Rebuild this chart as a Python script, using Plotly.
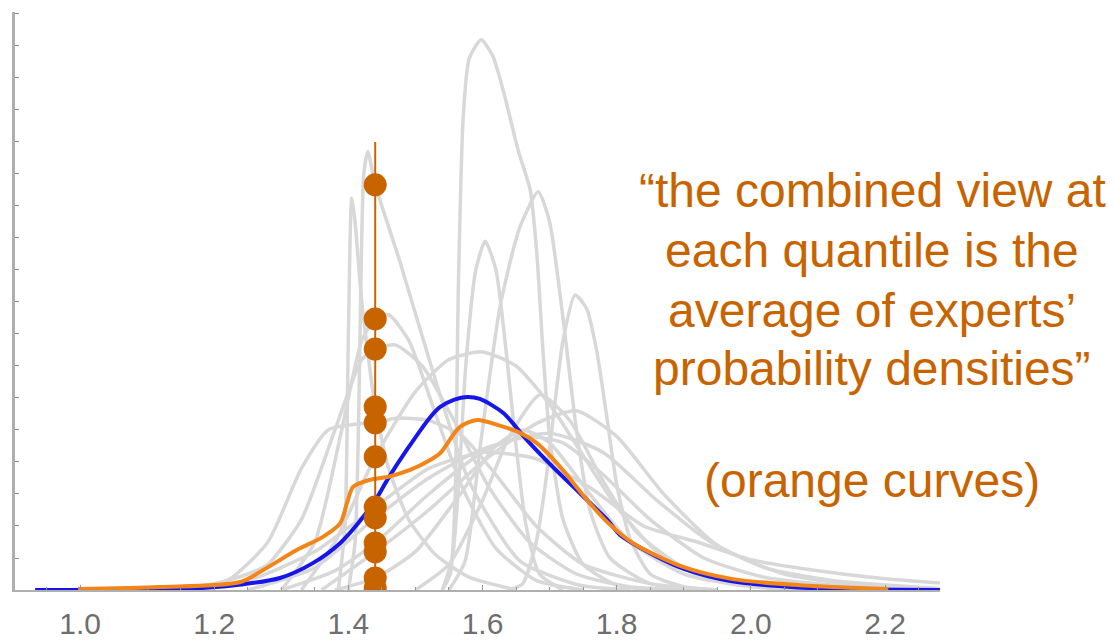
import plotly.graph_objects as go

# ---- combined (blue) and averaged (orange) densities ----
blue_x = [0.933, 1.10, 1.18, 1.24, 1.298, 1.347, 1.388, 1.422, 1.443, 1.458, 1.487, 1.522, 1.537,
          1.558, 1.577, 1.596, 1.631, 1.666, 1.705, 1.745, 1.786, 1.805, 1.85, 1.90, 1.97, 2.07, 2.16, 2.282]
blue_y = [0, 0.01, 0.06, 0.17, 0.375, 0.84, 1.47, 2.28, 2.9, 3.44, 4.375, 5.4, 5.72,
          5.95, 6.03, 5.97, 5.53, 4.69, 3.84, 3.03, 2.19, 1.72, 1.15, 0.66, 0.28, 0.08, 0.02, 0]

orange_x = [0.997, 1.119, 1.239, 1.273, 1.323, 1.362, 1.388, 1.398, 1.407, 1.432, 1.458, 1.492, 1.522,
            1.537, 1.566, 1.592, 1.622, 1.656, 1.681, 1.716, 1.756, 1.786, 1.824, 1.899, 1.973, 2.073, 2.205]
orange_y = [0.03, 0.09, 0.25, 0.625, 1.25, 1.66, 2.09, 2.72, 3.22, 3.44, 3.53, 3.75, 4.06,
            4.28, 5.09, 5.31, 5.16, 4.91, 4.59, 3.84, 2.81, 2.12, 1.47, 0.72, 0.34, 0.15, 0.03]

# ---- individual expert densities (grey) ----
exp01_x = [1.54, 1.552, 1.559, 1.564, 1.571, 1.58, 1.598, 1.615, 1.631, 1.653, 1.671, 1.681, 1.69, 1.70, 1.72, 1.75, 1.80, 1.86]
exp01_y = [0, 0.5, 2.8, 9.5, 14.7, 16.6, 17.19, 16.7, 15.6, 13.75, 12.5, 10.5, 7.5, 4.8, 2.2, 0.8, 0.15, 0]

exp02_x = [1.55, 1.574, 1.596, 1.626, 1.655, 1.683, 1.70, 1.72, 1.74, 1.76, 1.79, 1.85, 1.95]
exp02_y = [0, 0.9, 4.4, 8.84, 11.3, 12.44, 11.5, 8.5, 5.0, 2.5, 1.0, 0.2, 0]

exp03_x = [1.54, 1.555, 1.565, 1.575, 1.59, 1.604, 1.62, 1.635, 1.65, 1.665, 1.685, 1.72]
exp03_y = [0, 1.0, 3.5, 7.0, 10.0, 10.9, 10.0, 7.5, 4.5, 2.0, 0.5, 0]

exp04_x = [1.64, 1.66, 1.68, 1.695, 1.705, 1.72, 1.738, 1.755, 1.77, 1.786, 1.80, 1.82, 1.85, 1.90, 1.95]
exp04_y = [0, 0.2, 1.5, 3.5, 5.3, 7.8, 9.22, 8.8, 7.5, 5.3, 3.3, 1.6, 0.5, 0.1, 0]

exp05_x = [1.40, 1.41, 1.415, 1.419, 1.423, 1.429, 1.44, 1.477, 1.522, 1.58, 1.656, 1.745, 1.82]
exp05_y = [0, 1.5, 5.0, 10.0, 13.0, 13.7, 12.66, 10.25, 7.1, 3.4, 0.9, 0.15, 0]

exp06_x = [1.385, 1.395, 1.40, 1.405, 1.41, 1.42, 1.44, 1.46, 1.49, 1.53, 1.58, 1.65]
exp06_y = [0, 2.0, 8.0, 12.25, 11.5, 9.0, 5.72, 3.8, 2.2, 1.1, 0.4, 0]

exp07_x = [1.30, 1.35, 1.39, 1.42, 1.44, 1.46, 1.49, 1.53, 1.57, 1.62, 1.68, 1.75]
exp07_y = [0, 1.5, 5.0, 7.8, 8.47, 8.6, 7.8, 5.5, 3.2, 1.3, 0.3, 0]

exp08_x = [1.10, 1.20, 1.25, 1.28, 1.33, 1.38, 1.42, 1.44, 1.47, 1.51, 1.56, 1.61, 1.67, 1.74, 1.82, 1.90]
exp08_y = [0, 0.2, 0.5, 0.8, 2.2, 5.0, 7.2, 7.53, 7.66, 7.0, 5.2, 3.2, 1.5, 0.5, 0.1, 0]

exp09_x = [1.15, 1.22, 1.28, 1.33, 1.37, 1.42, 1.44, 1.47, 1.52, 1.57, 1.62, 1.68, 1.75, 1.85, 1.95]
exp09_y = [0, 0.3, 1.5, 3.8, 5.0, 5.2, 5.22, 5.37, 5.3, 4.8, 3.6, 2.0, 0.8, 0.2, 0]

exp10_x = [1.33, 1.38, 1.44, 1.50, 1.55, 1.60, 1.65, 1.70, 1.75, 1.80, 1.86, 1.93, 2.02, 2.10]
exp10_y = [0, 1.5, 4.16, 6.2, 7.2, 7.44, 7.0, 5.8, 4.2, 2.6, 1.2, 0.4, 0.1, 0]

exp11_x = [1.50, 1.55, 1.60, 1.64, 1.686, 1.73, 1.78, 1.83, 1.90, 2.00, 2.10]
exp11_y = [0, 0.8, 2.8, 4.8, 6.1, 5.3, 3.4, 1.8, 0.7, 0.15, 0]

exp12_x = [1.15, 1.25, 1.35, 1.44, 1.52, 1.60, 1.68, 1.76, 1.84, 1.92, 2.00, 2.10, 2.20, 2.282]
exp12_y = [0, 0.3, 1.2, 2.59, 3.8, 4.3, 4.1, 3.2, 2.0, 1.5, 0.95, 0.6, 0.35, 0.22]

exp13_x = [1.25, 1.35, 1.44, 1.52, 1.60, 1.70, 1.78, 1.86, 1.94, 2.02, 2.12, 2.282]
exp13_y = [0, 0.7, 2.25, 3.5, 4.4, 4.9, 4.3, 2.8, 1.5, 0.7, 0.3, 0.05]

exp14_x = [1.30, 1.38, 1.44, 1.52, 1.60, 1.66, 1.72, 1.78, 1.85, 1.93, 2.02, 2.15, 2.282]
exp14_y = [0, 0.6, 1.47, 3.0, 4.3, 4.8, 4.6, 3.6, 2.2, 1.0, 0.4, 0.1, 0]

exp15_x = [1.36, 1.44, 1.52, 1.60, 1.68, 1.74, 1.80, 1.87, 1.95, 2.05, 2.18, 2.282]
exp15_y = [0, 1.19, 2.5, 4.0, 5.2, 5.6, 4.8, 3.0, 1.4, 0.5, 0.12, 0.03]

exp16_x = [1.38, 1.44, 1.50, 1.56, 1.62, 1.66, 1.70, 1.76, 1.82, 1.90, 2.00, 2.10]
exp16_y = [0, 0.375, 1.2, 2.8, 4.5, 5.0, 4.6, 3.0, 1.5, 0.5, 0.1, 0]

# ---- quantile marker: densities of each expert at the chosen value ----
quantile_value = 1.44
quantile_line_top = 14.0
quantile_densities = [12.66, 8.47, 7.53, 5.72, 5.22, 4.16, 2.59, 2.25, 1.47, 1.19, 0.375, 0.06]

x_tick_vals = [1.0, 1.2, 1.4, 1.6, 1.8, 2.0, 2.2]
x_tick_text = ["1.0", "1.2", "1.4", "1.6", "1.8", "2.0", "2.2"]

caption_lines = ["\u201cthe combined view at", "each quantile is the",
                 "average of experts\u2019", "probability densities\u201d", "", "(orange curves)"]

GREY = "rgb(216,216,216)"
BLUE = "rgb(22,22,235)"
ORANGE = "rgb(242,132,24)"
DARK_ORANGE = "#C86400"

experts = [
    (exp01_x, exp01_y), (exp02_x, exp02_y), (exp03_x, exp03_y), (exp04_x, exp04_y),
    (exp05_x, exp05_y), (exp06_x, exp06_y), (exp07_x, exp07_y), (exp08_x, exp08_y),
    (exp09_x, exp09_y), (exp10_x, exp10_y), (exp11_x, exp11_y), (exp12_x, exp12_y),
    (exp13_x, exp13_y), (exp14_x, exp14_y), (exp15_x, exp15_y), (exp16_x, exp16_y),
]

fig = go.Figure()

for ex, ey in experts:
    fig.add_trace(go.Scatter(x=ex, y=ey, mode="lines",
                             line=dict(color=GREY, width=3.5, shape="spline", smoothing=0.6),
                             hoverinfo="skip", showlegend=False))

fig.add_trace(go.Scatter(x=blue_x, y=blue_y, mode="lines",
                         line=dict(color=BLUE, width=4, shape="spline", smoothing=0.8),
                         showlegend=False))
fig.add_trace(go.Scatter(x=orange_x, y=orange_y, mode="lines",
                         line=dict(color=ORANGE, width=4, shape="spline", smoothing=0.8),
                         showlegend=False))

# vertical quantile line with one dot per expert
fig.add_trace(go.Scatter(x=[quantile_value, quantile_value], y=[0, quantile_line_top], mode="lines",
                         line=dict(color=DARK_ORANGE, width=2), showlegend=False))
fig.add_trace(go.Scatter(x=[quantile_value] * len(quantile_densities), y=quantile_densities,
                         mode="markers", marker=dict(color=DARK_ORANGE, size=23),
                         showlegend=False))

caption_y = [190, 250, 310, 368, 424, 480]
for text, py in zip(caption_lines, caption_y):
    if not text:
        continue
    fig.add_annotation(text=text, xref="paper", yref="paper",
                       x=(872 - 15) / 925, y=(590 - py) / 578,
                       xanchor="center", yanchor="middle", showarrow=False,
                       font=dict(family="Liberation Sans, Arial", size=48, color=DARK_ORANGE))

fig.update_layout(
    width=1114, height=642,
    margin=dict(l=15, r=174, t=12, b=52),
    paper_bgcolor="white", plot_bgcolor="white",
    xaxis=dict(range=[0.903, 2.282], tickvals=x_tick_vals, ticktext=x_tick_text,
               automargin=False,
               showgrid=False, zeroline=False, showline=True, linecolor="rgb(175,175,175)", linewidth=2,
               ticks="inside", ticklen=5, tickcolor="rgb(150,150,150)", tickwidth=1,
               minor=dict(dtick=0.05, tick0=1.0, ticks="inside", ticklen=3, tickcolor="rgb(150,150,150)"),
               tickfont=dict(family="Liberation Sans, Arial", size=30, color="rgb(110,110,110)"),
               ticklabelstandoff=6),
    yaxis=dict(range=[0, 18.06], dtick=1, showticklabels=False, showgrid=False, zeroline=False,
               automargin=False,
               showline=True, linecolor="rgb(175,175,175)", linewidth=3,
               ticks="inside", ticklen=4, tickcolor="rgb(140,140,140)"),
)

fig.write_html("out.html")
